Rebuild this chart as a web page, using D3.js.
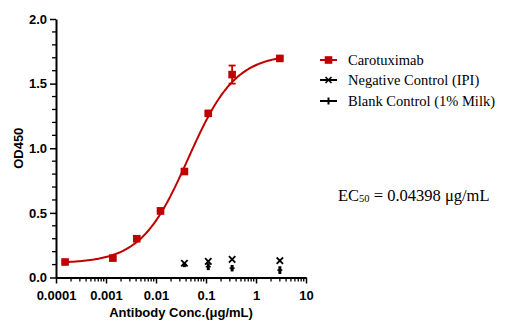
<!DOCTYPE html>
<html><head><meta charset="utf-8">
<script src="https://cdn.jsdelivr.net/npm/d3@7/dist/d3.min.js"></script>
<style>body{margin:0;background:#fff}svg{display:block}</style>
</head><body>
<svg id="c" width="516" height="327"></svg>
<script>
// ---- data ----
const concentrations = [0.000152, 0.00137, 0.00412, 0.0123, 0.037, 0.111, 0.333, 3];
const carotuximab    = [0.12, 0.15, 0.30, 0.515, 0.82, 1.27, 1.57, 1.695];
const carotuximabErr = [0.01, 0.01, 0.01, 0.02, 0.015, 0.01, 0.07, 0.01];
const controlConc    = [0.037, 0.111, 0.333, 3];
const negativeControl = [0.11, 0.125, 0.14, 0.13];
const blankControl    = [0.10, 0.084, 0.072, 0.057];
const blankErr        = [0.02, 0.027, 0.025, 0.03];
// 4PL fit parameters
const fitBottom = 0.11, fitTop = 1.73, fitEC50 = 0.04398, fitHill = 0.92;
const xTicks = [0.0001, 0.001, 0.01, 0.1, 1, 10];
const xTickLabels = ["0.0001", "0.001", "0.01", "0.1", "1", "10"];
const yTicks = [0, 0.5, 1.0, 1.5, 2.0];
const yMinorTicks = [0.1, 0.2, 0.3, 0.4, 0.6, 0.7, 0.8, 0.9, 1.1, 1.2, 1.3, 1.4, 1.6, 1.7, 1.8, 1.9];
const legendLabels = ["Carotuximab", "Negative Control (IPI)", "Blank Control (1% Milk)"];

const RED = "#c00000";
const svg = d3.select("#c");
const x = d3.scaleLog().domain([1e-4, 10]).range([56, 306]);
const y = d3.scaleLinear().domain([0, 2]).range([277.5, 19]);

const xMinorTicks = [];
for (let e = -4; e < 1; e++) for (let k = 2; k <= 9; k++) xMinorTicks.push(k * Math.pow(10, e));

const AX_FONT = "Arial, 'Liberation Sans', sans-serif";
const x0 = x(1e-4), y0 = y(0);

// minor ticks (drawn directly from scales)
const mt = svg.append("g").attr("stroke", "#000").attr("stroke-width", 1.3);
mt.selectAll("line.xm").data(xMinorTicks).join("line").attr("class", "xm")
  .attr("x1", d => x(d)).attr("x2", d => x(d)).attr("y1", y0).attr("y2", y0 + 4);
mt.selectAll("line.ym").data(yMinorTicks).join("line").attr("class", "ym")
  .attr("x1", x0 - 4).attr("x2", x0).attr("y1", d => y(d)).attr("y2", d => y(d));

const gx = svg.append("g").attr("transform", `translate(0,${y0})`)
  .call(d3.axisBottom(x).tickValues(xTicks).tickSize(6).tickSizeOuter(0)
  .tickFormat((d, i) => xTickLabels[i]));
gx.selectAll(".domain").attr("stroke", "#000").attr("stroke-width", 2);
gx.selectAll("line").attr("stroke", "#000").attr("stroke-width", 1.5);
gx.selectAll("text").attr("font-family", AX_FONT)
  .attr("font-weight", "bold").attr("font-size", 13).attr("fill", "#000").attr("dy", "1.0em");

const gy = svg.append("g").attr("transform", `translate(${x0},0)`)
  .call(d3.axisLeft(y).tickValues(yTicks).tickSize(6).tickSizeOuter(0).tickFormat(d3.format(".1f")));
gy.selectAll(".domain").attr("stroke", "#000").attr("stroke-width", 2);
gy.selectAll("line").attr("stroke", "#000").attr("stroke-width", 1.5);
gy.selectAll("text").attr("font-family", AX_FONT)
  .attr("font-weight", "bold").attr("font-size", 13).attr("fill", "#000");

// axis titles
svg.append("text").attr("x", 181).attr("y", 317).attr("text-anchor", "middle")
  .attr("font-family", AX_FONT).attr("font-weight", "bold")
  .attr("font-size", 13).text("Antibody Conc.(μg/mL)");
svg.append("text").attr("transform", `translate(23,${(y(0) + y(2)) / 2}) rotate(-90)`)
  .attr("text-anchor", "middle").attr("font-family", AX_FONT)
  .attr("font-weight", "bold").attr("font-size", 13).text("OD450");

// fit curve
const fit = c => fitBottom + (fitTop - fitBottom) / (1 + Math.pow(fitEC50 / c, fitHill));
const lx0 = Math.log10(concentrations[0]), lx1 = Math.log10(concentrations[concentrations.length - 1]);
const curvePts = d3.range(0, 201).map(i => Math.pow(10, lx0 + (lx1 - lx0) * i / 200));
svg.append("path").datum(curvePts)
  .attr("d", d3.line().x(d => x(d)).y(d => y(fit(d))))
  .attr("fill", "none").attr("stroke", RED).attr("stroke-width", 2);

// error bars carotuximab
const eb = svg.append("g").attr("stroke", RED).attr("stroke-width", 1.8);
concentrations.forEach((c, i) => {
  const cx = x(c), y1 = y(carotuximab[i] + carotuximabErr[i]), y2 = y(carotuximab[i] - carotuximabErr[i]);
  eb.append("line").attr("x1", cx).attr("x2", cx).attr("y1", y1).attr("y2", y2);
  eb.append("line").attr("x1", cx - 3.5).attr("x2", cx + 3.5).attr("y1", y1).attr("y2", y1);
  eb.append("line").attr("x1", cx - 3.5).attr("x2", cx + 3.5).attr("y1", y2).attr("y2", y2);
});
svg.append("g").selectAll("rect").data(concentrations).join("rect")
  .attr("x", d => x(d) - 3.8).attr("y", (d, i) => y(carotuximab[i]) - 3.8)
  .attr("width", 7.6).attr("height", 7.6).attr("fill", RED);

// blank control
const bg = svg.append("g").attr("stroke", "#000");
controlConc.forEach((c, i) => {
  const cx = x(c), cy = y(blankControl[i]);
  bg.append("line").attr("x1", cx).attr("x2", cx)
    .attr("y1", y(blankControl[i] + blankErr[i])).attr("y2", y(blankControl[i] - blankErr[i]))
    .attr("stroke-width", 3);
  bg.append("line").attr("x1", cx - 2.5).attr("x2", cx + 2.5).attr("y1", cy).attr("y2", cy).attr("stroke-width", 1.5);
});
// negative control ×
const ng = svg.append("g").attr("stroke", "#000").attr("stroke-width", 1.8);
controlConc.forEach((c, i) => {
  const cx = x(c), cy = y(negativeControl[i]), s = 3.2;
  ng.append("line").attr("x1", cx - s).attr("x2", cx + s).attr("y1", cy - s).attr("y2", cy + s);
  ng.append("line").attr("x1", cx - s).attr("x2", cx + s).attr("y1", cy + s).attr("y2", cy - s);
});

// legend
const legY = [60, 80, 101];
const lg = svg.append("g");
legendLabels.forEach((t, i) => {
  const yy = legY[i], col = i === 0 ? RED : "#000";
  lg.append("line").attr("x1", 320).attr("x2", 337).attr("y1", yy).attr("y2", yy)
    .attr("stroke", col).attr("stroke-width", 2);
  if (i === 0) lg.append("rect").attr("x", 324.7).attr("y", yy - 3.8).attr("width", 7.6).attr("height", 7.6).attr("fill", RED);
  if (i === 1) {
    lg.append("line").attr("x1", 325.5).attr("x2", 331.5).attr("y1", yy - 3).attr("y2", yy + 3).attr("stroke", "#000").attr("stroke-width", 1.6);
    lg.append("line").attr("x1", 325.5).attr("x2", 331.5).attr("y1", yy + 3).attr("y2", yy - 3).attr("stroke", "#000").attr("stroke-width", 1.6);
  }
  if (i === 2) lg.append("line").attr("x1", 328.5).attr("x2", 328.5).attr("y1", yy - 3.5).attr("y2", yy + 3.5).attr("stroke", "#000").attr("stroke-width", 2);
  lg.append("text").attr("x", 348).attr("y", yy + 4.5)
    .attr("font-family", "'Liberation Serif', 'Times New Roman', serif").attr("font-size", 14.5).text(t);
});

// EC50 annotation
const ec = svg.append("text").attr("x", 338).attr("y", 201)
  .attr("font-family", "'Liberation Serif', 'Times New Roman', serif").attr("font-size", 16.5);
ec.append("tspan").text("EC");
ec.append("tspan").attr("font-size", 10.5).attr("dy", 1).text("50");
ec.append("tspan").attr("dy", -1).text(" = 0.04398 μg/mL");
</script>
</body></html>
